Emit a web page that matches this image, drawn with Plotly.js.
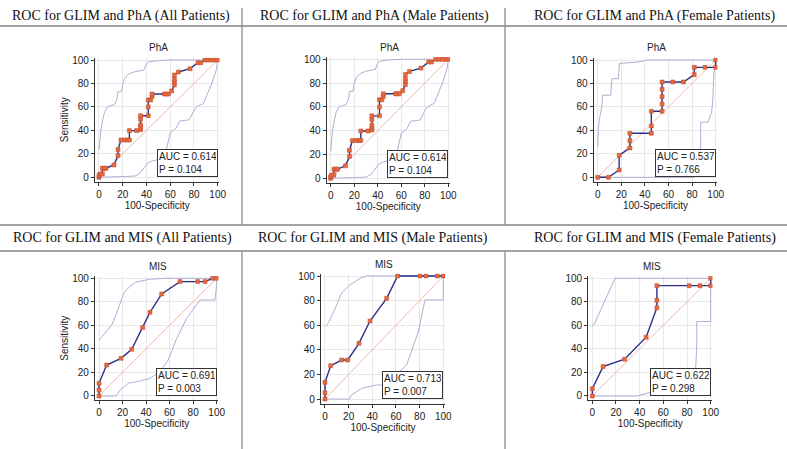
<!DOCTYPE html>
<html><head><meta charset="utf-8">
<script src="https://cdn.plot.ly/plotly-3.0.1.min.js"></script>
<style>body{margin:0;background:#fff}#chart{width:787px;height:449px}</style>
</head><body><div id="chart"></div>
<script>
// ---------- text ----------
const headers = [
  "ROC for GLIM and PhA (All Patients)", "ROC for GLIM and PhA (Male Patients)", "ROC for GLIM and PhA (Female Patients)",
  "ROC for GLIM and MIS (All Patients)", "ROC for GLIM and MIS (Male Patients)", "ROC for GLIM and MIS (Female Patients)"
];
const panelTitles = ["PhA", "PhA", "PhA", "MIS", "MIS", "MIS"];
const aucValues = ["0.614", "0.614", "0.537", "0.691", "0.713", "0.622"];
const pValues = ["0.104", "0.104", "0.766", "0.003", "0.007", "0.298"];
const tickVals = [0, 20, 40, 60, 80, 100];

// ---------- PhA, all patients ----------
const phaAllX = [0,0,0.8,2.8,2.8,4.5,5.9,12.6,16,16,18.5,21.6,24,25.6,25.6,31.7,35,35,35,35,35,41.5,41.5,41.5,43.5,44.7,44.7,55.1,56.7,58.4,61.2,63.5,63.5,63.5,63.5,66.9,76.7,83.4,85.7,89.3,92.1,94.9,97.8,100];
const phaAllY = [0,1.4,2.8,2.8,7.7,7.7,7.7,10.5,18.5,23.6,31.8,31.8,31.8,31.8,39.8,39.8,40.5,42.5,44.5,49.5,52.5,52.5,60,66,66,68.8,71,71,71,71,73.6,78.7,81.5,83.5,87.2,89.8,92.6,97.7,97.7,100,100,100,100,100];
const phaAllUpX = [0,0.5,1.5,3,4.5,7,10,13,15,16,19,20,22,25,30,38,40,42,50,60,100];
const phaAllUpY = [23,30,40,48,55,60,61,62,66,73,73,80,85,88,90,91.5,97,98.5,99.5,100,100];
const phaAllLoX = [0,20,30,34,38,41,45,52,56,58,60,63,65,68,76,79,82,88,92,95,99,100];
const phaAllLoY = [0,0.3,1,3,8,12,14,15.5,20,30,38,40,42,48,49,55,60,63,72,80,92,100];

// ---------- PhA, male patients ----------
const phaMaleX = [0,0,0.8,2.8,2.8,4.5,5.9,12.6,16,16,18.5,21.6,24,25.6,25.6,31.7,35,35,35,35,35,41.5,41.5,41.5,43.5,44.7,44.7,55.1,56.7,58.4,61.2,63.5,63.5,63.5,63.5,66.9,76.7,83.4,85.7,89.3,92.1,94.9,97.8,100];
const phaMaleY = [0,1.4,2.8,2.8,7.7,7.7,7.7,10.5,18.5,23.6,31.8,31.8,31.8,31.8,39.8,39.8,40.5,42.5,44.5,49.5,52.5,52.5,60,66,66,68.8,71,71,71,71,73.6,78.7,81.5,83.5,87.2,89.8,92.6,97.7,97.7,100,100,100,100,100];
const phaMaleUpX = [0,0.5,1.5,3,4.5,7,10,13,15,16,19,20,22,25,30,38,40,42,50,60,100];
const phaMaleUpY = [23,30,40,48,55,60,61,62,66,73,73,80,85,88,90,91.5,97,98.5,99.5,100,100];
const phaMaleLoX = [0,20,30,34,38,41,45,52,56,58,60,63,65,68,76,79,82,88,92,95,99,100];
const phaMaleLoY = [0,0.3,1,3,8,12,14,15.5,20,30,38,40,42,48,49,55,60,63,72,80,92,100];

// ---------- PhA, female patients ----------
const phaFemX = [0,9.09,18.18,18.18,27.27,27.27,27.27,45.45,45.45,45.45,54.55,54.55,54.55,54.55,54.55,63.64,72.73,81.82,81.82,90.91,100,100];
const phaFemY = [0,0,6.25,18.75,25,31.25,37.5,37.5,43.75,56.25,56.25,62.5,68.75,75,81.25,81.25,81.25,87.5,93.75,93.75,93.75,100];
const phaFemUpX = [0,0.5,1.5,2.5,3.5,4,11,12,17.5,18.4,28,36,42,100];
const phaFemUpY = [26,40,50,57,60,70,70,84,84,97,97.5,98.5,100,100];
const phaFemLoX = [0,81.8,81.8,87.3,87.3,93.5,95.5,96.5,97.5,98.5,100];
const phaFemLoY = [0,0,23.5,23.5,47,47,53,55,65,88,100];

// ---------- MIS, all patients ----------
const misAllX = [0,0,0,6.5,18.7,27.8,37.1,43.3,53.3,68.8,83.9,90.1,96.6,100];
const misAllY = [0,5.1,10.8,26.3,32,39.7,58.1,71.1,86.7,97.2,97.2,97.2,100,100];
const misAllUpX = [0,5,10.8,15,21,26,31,43,57,100];
const misAllUpY = [47.6,53.8,60.3,70.3,87.3,92.9,96.6,99.2,100,100];
const misAllLoX = [0,14.4,18.4,24.9,34.8,43.3,51.8,58.9,66,74.5,85.8,98.6,100,100];
const misAllLoY = [0,0,5.7,10.8,12.7,15,20.7,30.6,49,66,81.6,81.6,95,100];

// ---------- MIS, male patients ----------
const misMaleX = [0,0,0,4.8,14.1,19.2,28.7,38,52.1,61.4,80.3,85.4,94.9,100];
const misMaleY = [0,5.1,13.6,27.1,31.7,31.7,45.3,63.4,81.8,100,100,100,100,100];
const misMaleUpX = [0,1.4,3,8.5,14.1,21.1,29.6,35.2,100];
const misMaleUpY = [58.8,60.2,62,73.4,86.4,92.7,98.1,100,100];
const misMaleLoX = [0,20.6,22.5,31,43.7,47.9,56.3,69,78.9,84.5,100,100];
const misMaleLoY = [0,0,3.3,8.7,11.4,11.4,16.8,27.6,54.7,80.5,80.5,100];

// ---------- MIS, female patients ----------
const misFemX = [0,0,9.09,27.27,45.45,54.55,54.55,54.55,81.82,90.91,100,100];
const misFemY = [0,6.25,25,31.25,50,75,81.25,93.75,93.75,93.75,93.75,100];
const misFemUpX = [0,2,12,17.7,19.2,100];
const misFemUpY = [59,62,84,97.2,100,100];
const misFemLoX = [0,37.5,51.5,86.8,88.2,88.2,100,100];
const misFemLoY = [0,0,3.7,13.6,41.9,63.2,63.2,100];

const diagX = [0, 100];
const diagY = [0, 100];

const panels = [
  {x: phaAllX, y: phaAllY, ux: phaAllUpX, uy: phaAllUpY, lx: phaAllLoX, ly: phaAllLoY},
  {x: phaMaleX, y: phaMaleY, ux: phaMaleUpX, uy: phaMaleUpY, lx: phaMaleLoX, ly: phaMaleLoY},
  {x: phaFemX, y: phaFemY, ux: phaFemUpX, uy: phaFemUpY, lx: phaFemLoX, ly: phaFemLoY},
  {x: misAllX, y: misAllY, ux: misAllUpX, uy: misAllUpY, lx: misAllLoX, ly: misAllLoY},
  {x: misMaleX, y: misMaleY, ux: misMaleUpX, uy: misMaleUpY, lx: misMaleLoX, ly: misMaleLoY},
  {x: misFemX, y: misFemY, ux: misFemUpX, uy: misFemUpY, lx: misFemLoX, ly: misFemLoY}
];

// ---------- layout geometry (pixel positions of data 0 and 100) ----------
const W = 787, H = 449;
const geom = [
  {x0: 99, x100: 217.7, y0: 177.3, y100: 60, ylab: true},
  {x0: 330.7, x100: 448.3, y0: 178.3, y100: 59.3, ylab: false},
  {x0: 597.7, x100: 715.7, y0: 177.3, y100: 60, ylab: false},
  {x0: 99, x100: 216.7, y0: 396, y100: 278.3, ylab: true},
  {x0: 325, x100: 443.3, y0: 399, y100: 276, ylab: false},
  {x0: 592.3, x100: 710.7, y0: 396, y100: 278.3, ylab: false}
];
const XR = [-3.5, 101.5], YR = [-3.8, 102];
const headerPos = [[121, 16], [374, 16], [654, 16], [122, 238], [373, 238], [655, 238]];

const FONT = "Liberation Sans, Arial, sans-serif";
const traces = [];
const layout = {
  width: W, height: H, margin: {l: 0, r: 0, t: 0, b: 0},
  paper_bgcolor: "#fff", plot_bgcolor: "#fff", showlegend: false,
  font: {family: FONT, size: 10, color: "#222"},
  annotations: [], shapes: []
};

panels.forEach((p, i) => {
  const g = geom[i];
  const n = i + 1;
  const xa = n === 1 ? "x" : "x" + n, ya = n === 1 ? "y" : "y" + n;
  const sx = (g.x100 - g.x0) / 100, sy = (g.y0 - g.y100) / 100;
  const left = g.x0 + XR[0] * sx, right = g.x0 + XR[1] * sx;
  const bottom = g.y0 - YR[0] * sy, top = g.y0 - YR[1] * sy;
  const band = {color: "#aeaed8", width: 1};
  traces.push({x: p.ux, y: p.uy, xaxis: xa, yaxis: ya, mode: "lines", line: band, hoverinfo: "skip"});
  traces.push({x: p.lx, y: p.ly, xaxis: xa, yaxis: ya, mode: "lines", line: band, hoverinfo: "skip"});
  traces.push({x: diagX, y: diagY, xaxis: xa, yaxis: ya, mode: "lines", line: {color: "#e8a898", width: 0.8}, hoverinfo: "skip"});
  traces.push({x: p.x, y: p.y, xaxis: xa, yaxis: ya, mode: "lines+markers",
    line: {color: "#28308c", width: 1.4},
    marker: {symbol: "square", size: 4, color: "#e3693f", line: {color: "#c24a2c", width: 0.5}}});
  const axBase = {
    showgrid: true, gridcolor: "#e2e2e2", gridwidth: 0.8, zeroline: false,
    showline: true, linecolor: "#333", linewidth: 1, ticks: "outside", ticklen: 3,
    tickcolor: "#333", tickvals: tickVals, tickfont: {family: FONT, size: 10, color: "#222"}
  };
  layout["xaxis" + (n === 1 ? "" : n)] = Object.assign({}, axBase, {
    domain: [left / W, right / W], range: XR, anchor: ya,
    title: {text: "100-Specificity", font: {family: FONT, size: 10, color: "#222"}, standoff: 0}
  });
  layout["yaxis" + (n === 1 ? "" : n)] = Object.assign({}, axBase, {
    domain: [1 - bottom / H, 1 - top / H], range: YR, anchor: xa,
    title: g.ylab ? {text: "Sensitivity", font: {family: FONT, size: 10, color: "#222"}, standoff: 1} : {text: ""}
  });
  // panel subtitle
  layout.annotations.push({xref: "paper", yref: "paper", x: ((g.x0 + g.x100) / 2) / W, y: 1 - (g.y100 - 12) / H,
    text: panelTitles[i], showarrow: false, font: {family: FONT, size: 10, color: "#222"}, xanchor: "center", yanchor: "middle"});
  // AUC box
  layout.annotations.push({xref: xa, yref: ya, x: 100, y: 0, xanchor: "right", yanchor: "bottom",
    text: "AUC = " + aucValues[i] + "<br>P = " + pValues[i], align: "left", showarrow: false,
    font: {family: FONT, size: 10, color: "#222"}, bgcolor: "#fff", bordercolor: "#333", borderwidth: 1, borderpad: 1,
    width: 57});
  // header
  layout.annotations.push({xref: "paper", yref: "paper", x: headerPos[i][0] / W, y: 1 - headerPos[i][1] / H,
    text: headers[i], showarrow: false, xanchor: "center", yanchor: "middle",
    font: {family: "Liberation Serif, Times New Roman, serif", size: 14, color: "#111"}});
});

// separators
function hline(y, x1, x2) { layout.shapes.push({type: "line", xref: "paper", yref: "paper", x0: x1 / W, x1: x2 / W, y0: 1 - y / H, y1: 1 - y / H, line: {color: "#444", width: 1}}); }
function vline(x, y1, y2) { layout.shapes.push({type: "line", xref: "paper", yref: "paper", x0: x / W, x1: x / W, y0: 1 - y1 / H, y1: 1 - y2 / H, line: {color: "#8a8a8a", width: 1.3}}); }
hline(26, 0, 787); hline(225, 0, 787); hline(251, 0, 787);
vline(242, 8, 225); vline(242, 251, 449);
vline(505, 8, 225); vline(505, 251, 449);

Plotly.newPlot("chart", traces, layout, {displayModeBar: false, staticPlot: true});
</script></body></html>
